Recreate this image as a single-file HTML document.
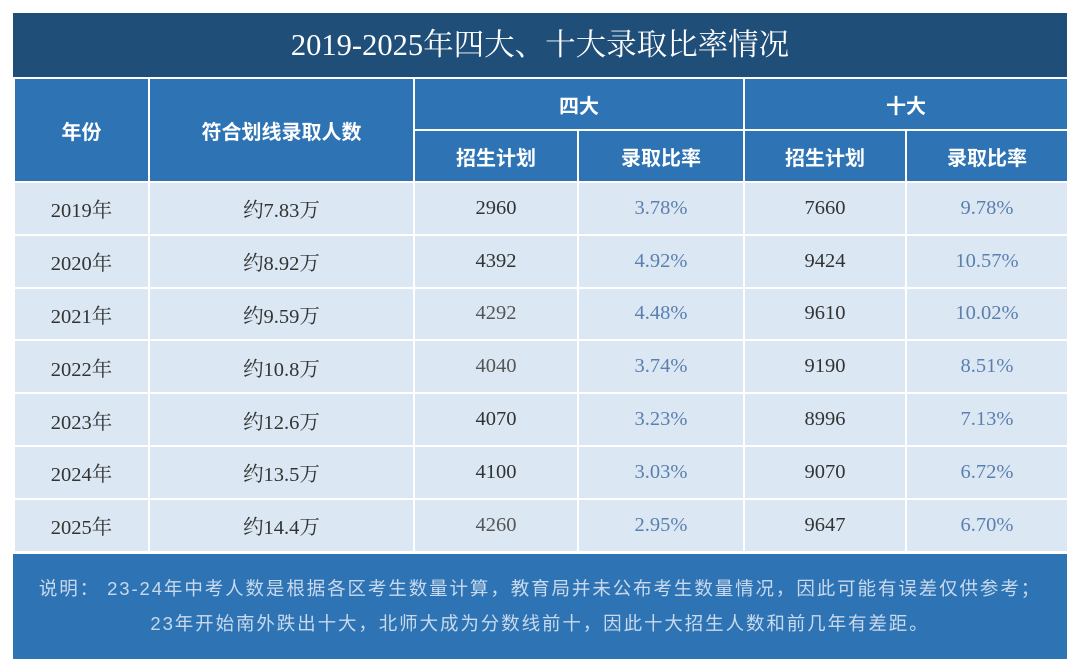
<!DOCTYPE html>
<html><head><meta charset="utf-8"><style>
body{margin:0;background:#fff;width:1080px;height:672px;position:relative;overflow:hidden;font-family:"Liberation Serif","Noto Serif CJK SC",serif}
.title{position:absolute;left:13px;top:13px;width:1054px;height:64px;background:#1f4e79;color:#fff;font-size:30.5px;line-height:64px;text-align:center}
table{position:absolute;left:13px;top:77px;width:1054px;border-collapse:collapse;table-layout:fixed}
td,th{border:2px solid #fff;text-align:center;padding:0}
th{background:#2e74b5;color:#fff;font-family:"Liberation Sans","Noto Sans CJK SC",sans-serif;font-weight:bold;font-size:20px;height:50px}
td{background:#dbe8f4;height:50.8px;font-size:20.5px;color:#555}
td.y{color:#333}
td.p{color:#5b7fae}
.foot{position:absolute;left:13px;top:554px;width:1054px;height:105px;background:#2e74b5;color:#c8d9ec;font-family:"Liberation Sans","Noto Sans CJK SC",sans-serif;font-size:18.5px;letter-spacing:1.9px;text-align:center;line-height:35px;padding-top:17px;box-sizing:border-box;white-space:nowrap}
</style></head><body>
<div class="title">2019-2025年四大、十大录取比率情况</div>
<table>
<colgroup><col style="width:135px"><col style="width:265px"><col style="width:164px"><col style="width:166px"><col style="width:162px"><col style="width:162px"></colgroup>
<tr><th rowspan="2">年份</th><th rowspan="2">符合划线录取人数</th><th colspan="2">四大</th><th colspan="2">十大</th></tr>
<tr><th>招生计划</th><th>录取比率</th><th>招生计划</th><th>录取比率</th></tr>
<tr><td class="y">2019年</td><td class="y">约7.83万</td><td class="y">2960</td><td class="p">3.78%</td><td class="y">7660</td><td class="p">9.78%</td></tr>
<tr><td class="y">2020年</td><td class="y">约8.92万</td><td class="y">4392</td><td class="p">4.92%</td><td class="y">9424</td><td class="p">10.57%</td></tr>
<tr><td class="y">2021年</td><td class="y">约9.59万</td><td>4292</td><td class="p">4.48%</td><td class="y">9610</td><td class="p">10.02%</td></tr>
<tr><td class="y">2022年</td><td class="y">约10.8万</td><td>4040</td><td class="p">3.74%</td><td class="y">9190</td><td class="p">8.51%</td></tr>
<tr><td class="y">2023年</td><td class="y">约12.6万</td><td class="y">4070</td><td class="p">3.23%</td><td class="y">8996</td><td class="p">7.13%</td></tr>
<tr><td class="y">2024年</td><td class="y">约13.5万</td><td class="y">4100</td><td class="p">3.03%</td><td class="y">9070</td><td class="p">6.72%</td></tr>
<tr><td class="y">2025年</td><td class="y">约14.4万</td><td>4260</td><td class="p">2.95%</td><td class="y">9647</td><td class="p">6.70%</td></tr>
</table>
<div class="foot">说明： 23-24年中考人数是根据各区考生数量计算，教育局并未公布考生数量情况，因此可能有误差仅供参考；<br>23年开始南外跌出十大，北师大成为分数线前十，因此十大招生人数和前几年有差距。</div>
</body></html>
